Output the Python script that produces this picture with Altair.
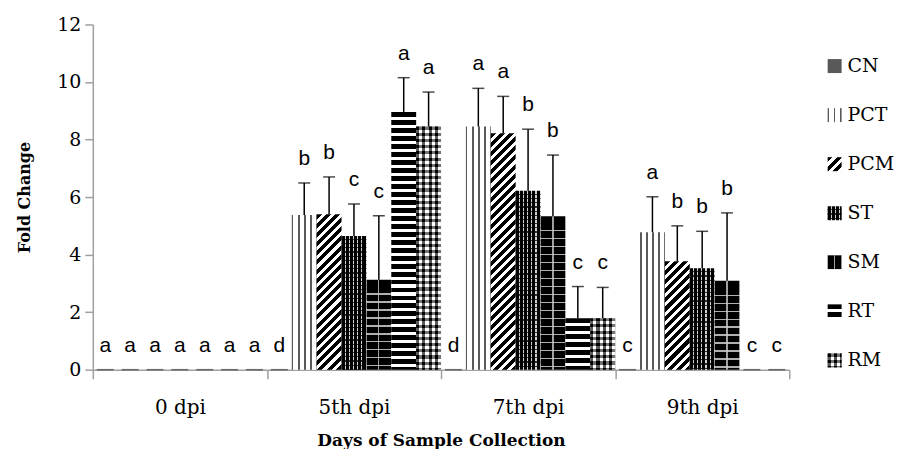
import math
import altair as alt
import pandas as pd

# ---------------- data ----------------
groups = ["0 dpi", "5th dpi", "7th dpi", "9th dpi"]
series = ["CN", "PCT", "PCM", "ST", "SM", "RT", "RM"]

cn_vals = [0, 0, 0, 0]
pct_vals = [0, 5.38, 8.45, 4.78]
pcm_vals = [0, 5.40, 8.22, 3.77]
st_vals = [0, 4.65, 6.22, 3.53]
sm_vals = [0, 3.13, 5.33, 3.09]
rt_vals = [0, 8.96, 1.79, 0]
rm_vals = [0, 8.45, 1.79, 0]

cn_err = [0, 0, 0, 0]
pct_err = [0, 1.11, 1.33, 1.23]
pcm_err = [0, 1.30, 1.28, 1.23]
st_err = [0, 1.11, 2.14, 1.28]
sm_err = [0, 2.22, 2.13, 2.36]
rt_err = [0, 1.19, 1.10, 0]
rm_err = [0, 1.20, 1.07, 0]

cn_let = ["a", "d", "d", "c"]
pct_let = ["a", "b", "a", "a"]
pcm_let = ["a", "b", "a", "b"]
st_let = ["a", "c", "b", "b"]
sm_let = ["a", "c", "b", "b"]
rt_let = ["a", "a", "c", "c"]
rm_let = ["a", "a", "c", "c"]

vals = {"CN": cn_vals, "PCT": pct_vals, "PCM": pcm_vals, "ST": st_vals,
        "SM": sm_vals, "RT": rt_vals, "RM": rm_vals}
errs = {"CN": cn_err, "PCT": pct_err, "PCM": pcm_err, "ST": st_err,
        "SM": sm_err, "RT": rt_err, "RM": rm_err}
lets = {"CN": cn_let, "PCT": pct_let, "PCM": pcm_let, "ST": st_let,
        "SM": sm_let, "RT": rt_let, "RM": rm_let}

rows = []
for gi, g in enumerate(groups):
    for s in series:
        v = vals[s][gi]
        e = errs[s][gi]
        rows.append({"group": g, "series": s, "value": v, "err": e,
                     "top": v + e, "letter": lets[s][gi]})
df = pd.DataFrame(rows)

# ---------------- layout / style ----------------
PLOT_W = 698
PLOT_H = 346
YMAX = 12
BAR_W = PLOT_W / len(groups) / len(series)
PX_PER_UNIT = PLOT_H / YMAX
CLEAR = "rgba(0,0,0,0)"


def stripes(w, h, theta, period, frac, on, off, start=0.0):
    th = math.radians(theta)
    sn, cs = math.sin(th), math.cos(th)
    if abs(sn) < 1e-9:
        sn = 0.0
    if abs(cs) < 1e-9:
        cs = 0.0
    dmax = w * sn + h * cs
    denom = (w * sn) ** 2 + (h * cs) ** 2
    k = dmax / denom
    x2, y2 = k * w * sn, k * h * cs
    stops = []
    pos = -start
    while pos < dmax - 1e-9:
        a = max(pos, 0.0)
        b = max(min(pos + frac * period, dmax), 0.0)
        c = max(min(pos + period, dmax), 0.0)
        if b > a:
            stops.append((a, on))
            stops.append((b, on))
        if c > b:
            stops.append((b, off))
            stops.append((c, off))
        pos += period
    return {"gradient": "linear", "x1": 0, "y1": 0,
            "x2": round(x2, 5), "y2": round(y2, 5),
            "stops": [{"offset": round(d / dmax, 5), "color": col} for d, col in stops]}


def pattern(name, w, h):
    """Return (base fill, overlay fill or None)."""
    if name == "CN":
        return "#595959", None
    if name == "PCT":
        return stripes(w, h, 90, 6.2, 0.3, "#5a5a5a", "#ffffff", start=0.3), None
    if name == "PCM":
        return stripes(w, h, 45, 6.5, 0.55, "#000000", "#ffffff"), None
    if name == "ST":
        return (stripes(w, h, 90, 4.2, 0.72, "#000000", "#d0d0d0"),
                stripes(w, h, 0, 4.2, 0.72, CLEAR, "rgba(0,0,0,0.75)"))
    if name == "SM":
        return (stripes(w, h, 0, 8.0, 0.85, "#000000", "#b0b0b0", start=-7.0),
                stripes(w, h, 90, w / 2.0, 0.1, "rgba(200,200,200,0.8)", CLEAR, start=0.6))
    if name == "RT":
        return stripes(w, h, 0, 8.0, 0.62, "#000000", "#ffffff"), None
    # RM: checker-like
    return (stripes(w, h, 90, 6.2, 0.5, "#000000", "#ffffff"),
            stripes(w, h, 0, 6.2, 0.5, "rgba(0,0,0,0.55)", "rgba(255,255,255,0.35)"))


AXIS_GRAY = "#a0a0a0"
SERIF = "DejaVu Serif"

X = alt.X("group:N",
          scale=alt.Scale(domain=groups, paddingInner=0, paddingOuter=0),
          axis=alt.Axis(title="Days of Sample Collection", labelAngle=0,
                        tickBand="extent", tickSize=9, tickWidth=1.5,
                        tickColor=AXIS_GRAY, domainColor=AXIS_GRAY, domainWidth=1.5,
                        labelFont=SERIF, labelFontSize=20, labelColor="black",
                        labelPadding=19, titleFont=SERIF, titleFontSize=17,
                        titleFontWeight="bold", titleColor="black", titlePadding=15))
XO = alt.XOffset("series:N",
                 scale=alt.Scale(domain=series, paddingInner=0, paddingOuter=0))
yscale = alt.Scale(domain=[0, YMAX], nice=False)
yaxis = alt.Axis(title="Fold Change", values=list(range(0, 13, 2)), grid=False,
                 tickSize=8, tickWidth=1.5, tickColor=AXIS_GRAY,
                 domainColor=AXIS_GRAY, domainWidth=1.5,
                 labelFont=SERIF, labelFontSize=19, labelColor="black",
                 labelPadding=4, titleFont=SERIF, titleFontSize=16,
                 titleFontWeight="bold", titleColor="black", titlePadding=24)
Y = alt.Y("value:Q", scale=yscale, axis=yaxis)
YT = alt.Y("top:Q", scale=yscale, axis=yaxis)

layers = []
for _, r in df.iterrows():
    if r["value"] <= 0:
        continue
    h = r["value"] * PX_PER_UNIT
    base, over = pattern(r["series"], BAR_W, h)
    one = pd.DataFrame([r.to_dict()])
    layers.append(alt.Chart(one).mark_bar(fill=base, strokeWidth=0)
                  .encode(x=X, xOffset=XO, y=Y))
    if over is not None:
        layers.append(alt.Chart(one).mark_bar(fill=over, strokeWidth=0)
                      .encode(x=X, xOffset=XO, y=Y))

zero_ticks = (alt.Chart(df).transform_filter("datum.value == 0")
              .mark_tick(color="#404040", size=17, thickness=1.5)
              .encode(x=X, xOffset=XO, y=Y))
err_rules = (alt.Chart(df).transform_filter("datum.err > 0")
             .mark_rule(color="black", strokeWidth=1.5)
             .encode(x=X, xOffset=XO, y=Y, y2="top:Q"))
err_caps = (alt.Chart(df).transform_filter("datum.err > 0")
            .mark_tick(color="black", size=12, thickness=1.5)
            .encode(x=X, xOffset=XO, y=YT))
letters = (alt.Chart(df)
           .mark_text(font="Liberation Sans", fontSize=21, color="black",
                      baseline="alphabetic", dy=-18)
           .encode(x=X, xOffset=XO, y=YT, text="letter:N"))

main = alt.layer(*layers, zero_ticks, err_rules, err_caps, letters)

# ---------------- legend ----------------
leg_df = pd.DataFrame({"series": series})
LY = alt.Y("series:N",
           scale=alt.Scale(type="point", domain=series, range=[41.7, 336.7], padding=0),
           axis=None)
leg_layers = []
for s in series:
    base, over = pattern(s, 14, 14)
    sub = leg_df[leg_df["series"] == s]
    leg_layers.append(alt.Chart(sub)
                      .mark_square(size=196, fill=base, opacity=1, strokeWidth=0)
                      .encode(x=alt.value(743.5), y=LY))
    if over is not None:
        leg_layers.append(alt.Chart(sub)
                          .mark_square(size=196, fill=over, opacity=1, strokeWidth=0)
                          .encode(x=alt.value(743.5), y=LY))
leg_text = (alt.Chart(leg_df)
            .mark_text(align="left", baseline="middle", font=SERIF, fontSize=19,
                       color="black")
            .encode(x=alt.value(756.5), y=LY, text="series:N"))
legend = alt.layer(*leg_layers, leg_text)

chart = (alt.layer(main, legend)
         .resolve_scale(y="independent")
         .properties(width=PLOT_W, height=PLOT_H,
                     padding={"left": 8, "top": 7, "right": 0, "bottom": 0})
         .configure_view(stroke=None))

chart.save("out.html", embed_options={"renderer": "svg", "actions": False})
